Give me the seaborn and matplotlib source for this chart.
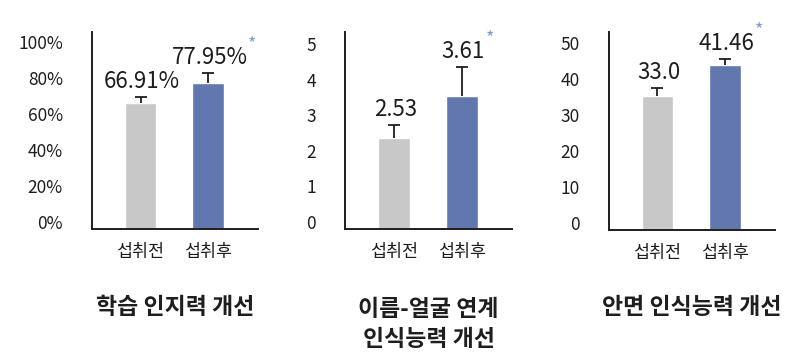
import matplotlib
matplotlib.use("Agg")
import matplotlib.pyplot as plt
import matplotlib.transforms as mtransforms
import numpy as np
import seaborn as sns

# data
categories = ["섭취전", "섭취후"]
titles = ["학습 인지력 개선", "이름-얼굴 연계\n인식능력 개선", "안면 인식능력 개선"]
stars = ["", "*"]

learn_bar = [70.0, 81.1]
learn_err = [3.3, 5.6]
learn_labels = ["66.91%", "77.95%"]
learn_ticks = [0, 20, 40, 60, 80, 100]
learn_ticklabels = ["0%", "20%", "40%", "60%", "80%", "100%"]

name_bar = [2.56, 3.74]
name_err = [0.36, 0.81]
name_labels = ["2.53", "3.61"]
name_ticks = [0, 1, 2, 3, 4, 5]

face_bar = [37.2, 45.8]
face_err = [2.2, 1.7]
face_labels = ["33.0", "41.46"]
face_ticks = [0, 10, 20, 30, 40, 50]

GRAY = "#C8C8C8"
BLUE = "#5571BA"
STAR = "#7D98D4"
INK = "#1E1E1E"

sns.set_style("white")
plt.rcParams["font.family"] = ["Noto Sans CJK KR", "DejaVu Sans"]

fig = plt.figure(figsize=(8, 3.6), dpi=100)

panels = [
    (learn_bar, learn_err, learn_labels, learn_ticks, learn_ticklabels, 109.4, [0.115, 0.3639, 0.2075, 0.547]),
    (name_bar, name_err, name_labels, name_ticks, [str(t) for t in name_ticks], 5.53, [0.43125, 0.3639, 0.209, 0.547]),
    (face_bar, face_err, face_labels, face_ticks, [str(t) for t in face_ticks], 55.0, [0.761, 0.3611, 0.2075, 0.55]),
]

value_texts = []
for (bars, errs, labels, ticks, ticklabels, ytop, rect), title in zip(panels, titles):
    ax = fig.add_axes(rect)
    sns.barplot(x=categories, y=bars, hue=categories, palette=[GRAY, BLUE],
                width=0.47, legend=False, ax=ax)
    eb = ax.errorbar(x=[0, 1], y=bars, yerr=[[0, 0], errs], fmt="none",
                     ecolor=INK, elinewidth=1.3, capsize=4, capthick=1.3)
    # only the upper cap is wanted
    for cap in eb[1]:
        if np.allclose(cap.get_ydata(), bars):
            cap.set_visible(False)
    ax.set_xlim(-0.72, 1.74)
    ax.set_ylim(0, ytop)
    ax.set_yticks(ticks)
    ax.set_yticklabels(ticklabels)
    ax.tick_params(axis="y", length=0, pad=21, labelsize=12.5, labelcolor=INK)
    ax.tick_params(axis="x", length=0, pad=10, labelsize=12.5, labelcolor=INK)
    # tick labels sit a little above their gridline positions in the original
    shift = mtransforms.ScaledTranslation(0, 5 / 72, fig.dpi_scale_trans)
    for lab in ax.get_yticklabels():
        lab.set_transform(lab.get_transform() + shift)
    sns.despine(ax=ax)
    for side in ("left", "bottom"):
        ax.spines[side].set_color(INK)
        ax.spines[side].set_linewidth(1.4)
    ax.set_xlabel("")
    ax.set_ylabel("")

    for i, (b, e, lab) in enumerate(zip(bars, errs, labels)):
        t = ax.annotate(lab, xy=(i, b + e), xytext=(1, 3), textcoords="offset points",
                        ha="center", va="bottom", fontsize=16, fontweight="light", color=INK)
        value_texts.append((t, stars[i]))

    pos = ax.get_position()
    fig.text((pos.x0 + pos.x1) / 2, 0.145 if "\n" not in title else 0.098, title,
             ha="center", va="center", fontsize=16.5, fontweight="bold",
             color=INK, linespacing=1.42)

fig.canvas.draw()
for t, s in value_texts:
    if s:
        bb = t.get_window_extent()
        fig.text(bb.x1 / fig.bbox.width + 0.001, bb.y1 / fig.bbox.height - 0.02, s,
                 ha="left", va="bottom", fontsize=13, color=STAR)

fig.savefig("out.png", dpi=100)
